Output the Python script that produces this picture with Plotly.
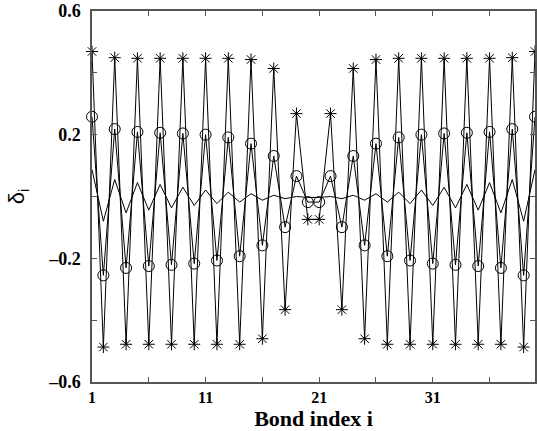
import plotly.graph_objects as go

# Bond index along the chain
bond_index = list(range(1, 41))

# Bond alternation delta_i for the three cases
delta_star = [
    0.469, -0.487, 0.449, -0.478, 0.447, -0.478, 0.447, -0.478, 0.447, -0.478,
    0.447, -0.478, 0.447, -0.478, 0.443, -0.460, 0.414, -0.366, 0.268, -0.074,
    -0.074, 0.268, -0.366, 0.414, -0.460, 0.443, -0.478, 0.447, -0.478, 0.447,
    -0.478, 0.447, -0.478, 0.447, -0.478, 0.447, -0.478, 0.449, -0.487, 0.469,
]
delta_circle = [
    0.258, -0.255, 0.218, -0.231, 0.209, -0.225, 0.206, -0.221, 0.204, -0.217,
    0.200, -0.207, 0.191, -0.193, 0.171, -0.158, 0.131, -0.099, 0.066, -0.018,
    -0.018, 0.066, -0.099, 0.131, -0.158, 0.171, -0.193, 0.191, -0.207, 0.200,
    -0.217, 0.204, -0.221, 0.206, -0.225, 0.209, -0.231, 0.218, -0.255, 0.258,
]
delta_plain = [
    0.087, -0.080, 0.055, -0.053, 0.045, -0.044, 0.039, -0.037, 0.030, -0.029,
    0.021, -0.023, 0.014, -0.018, 0.009, -0.012, 0.004, -0.007, 0.000, -0.003,
    -0.003, 0.000, -0.007, 0.004, -0.012, 0.009, -0.018, 0.014, -0.023, 0.021,
    -0.029, 0.030, -0.037, 0.039, -0.044, 0.045, -0.053, 0.055, -0.080, 0.087,
]

x_tickvals = [1, 11, 21, 31]
x_ticktext = ["1", "11", "21", "31"]
y_tickvals = [-0.6, -0.2, 0.2, 0.6]
y_ticktext = ["\u20130.6", "\u20130.2", "0.2", "0.6"]

fig = go.Figure()

fig.add_trace(go.Scatter(
    x=bond_index, y=delta_plain, mode="lines",
    line=dict(color="black", width=1), cliponaxis=False, showlegend=False,
))
fig.add_trace(go.Scatter(
    x=bond_index, y=delta_circle, mode="lines+markers",
    line=dict(color="black", width=1),
    marker=dict(symbol="circle-open", size=11, color="black", line=dict(width=1)),
    cliponaxis=False, showlegend=False,
))
fig.add_trace(go.Scatter(
    x=bond_index, y=delta_star, mode="lines+markers",
    line=dict(color="black", width=1),
    marker=dict(symbol="asterisk-open", size=10, color="black", line=dict(width=1)),
    cliponaxis=False, showlegend=False,
))

axis_common = dict(
    showgrid=False, zeroline=False, showline=True, linecolor="#555555",
    linewidth=1.5, mirror="ticks", ticks="inside", ticklen=5,
    tickcolor="#555555", tickwidth=1,
)

fig.update_xaxes(
    range=[1, 40], tickmode="array", tickvals=x_tickvals, ticktext=x_ticktext,
    minor=dict(tick0=1, dtick=5, ticks="inside", ticklen=5,
               tickcolor="#555555", tickwidth=1, showgrid=False),
    tickfont=dict(family="Liberation Serif", size=16, color="black", weight="bold"),
    title=dict(text="<b>Bond index i</b>", standoff=0,
               font=dict(family="Liberation Serif", size=22, color="black")),
    **axis_common,
)
fig.update_yaxes(
    range=[-0.6, 0.6], tickmode="array", tickvals=y_tickvals, ticktext=y_ticktext,
    minor=dict(tick0=0, dtick=0.2, ticks="inside", ticklen=5,
               tickcolor="#555555", tickwidth=1, showgrid=False),
    tickfont=dict(family="Liberation Serif", size=18, color="black", weight="bold"),
    ticklabelstandoff=6,
    title=dict(text="\u03b4<sub>i</sub>", standoff=17,
               font=dict(family="Liberation Sans", size=22, color="black")),
    **axis_common,
)

fig.update_layout(
    width=537, height=431,
    margin=dict(l=92, r=0, t=11, b=49),
    paper_bgcolor="white", plot_bgcolor="white",
)

fig.write_html("out.html")
